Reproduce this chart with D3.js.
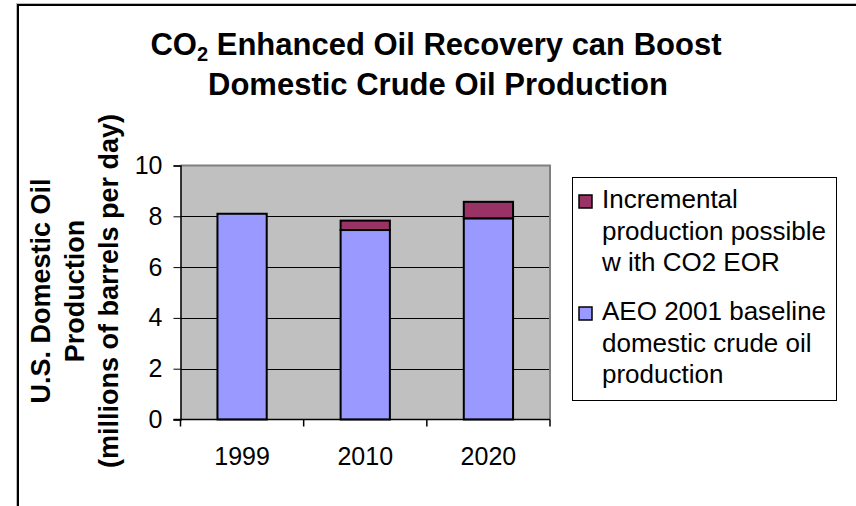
<!DOCTYPE html>
<html><head><meta charset="utf-8">
<script src="https://cdn.jsdelivr.net/npm/d3@7"></script>
<style>body{margin:0;background:#fff}svg{display:block}text{font-family:"Liberation Sans",Arial,sans-serif}</style>
</head><body>
<svg id="c" width="856" height="506"></svg>
<script>
const categories = ["1999", "2010", "2020"];
const baseline = [8.1, 7.46, 7.92];
const incremental = [0, 0.37, 0.65];
const yTicks = [0, 2, 4, 6, 8, 10];
const legendLines = [["Incremental", "production possible", "w ith CO2 EOR"], ["AEO 2001 baseline", "domestic crude oil", "production"]];
const colors = {baseline: "#9999FF", incremental: "#993366"};

(function () {
const svg = d3.select("#c");
// outer frame
svg.append("rect").attr("x", 16.5).attr("y", 3.5).attr("width", 900).attr("height", 600)
  .attr("fill", "none").attr("stroke", "#bbb").attr("stroke-width", 1);
svg.append("rect").attr("x", 18).attr("y", 5).attr("width", 900).attr("height", 600)
  .attr("fill", "none").attr("stroke", "#000").attr("stroke-width", 2);

// title
const title = svg.append("text").attr("text-anchor", "middle").attr("font-weight", "bold").attr("font-size", 31);
const t1 = title.append("tspan").attr("x", 436).attr("y", 55);
t1.append("tspan").text("CO");
t1.append("tspan").attr("font-size", 20).attr("dy", 6).text("2");
t1.append("tspan").attr("dy", -6).text(" Enhanced Oil Recovery can Boost");
title.append("tspan").attr("x", 438).attr("y", 95).text("Domestic Crude Oil Production");

const pLeft = 180.5, pRight = 550, pTop = 165.5, pBottom = 419.5;
const x = d3.scaleBand().domain(categories).range([pLeft, pRight]).paddingInner(0.6).paddingOuter(0.3);
const y = d3.scaleLinear().domain([0, 10]).range([pBottom, pTop]);

// plot background
svg.append("rect").attr("x", pLeft).attr("y", pTop).attr("width", pRight - pLeft).attr("height", pBottom - pTop).attr("fill", "#C0C0C0");
// gridlines
svg.append("g").selectAll("line").data(yTicks.filter(v => v > 0 && v < 10)).join("line")
  .attr("x1", pLeft).attr("x2", pRight).attr("y1", d => Math.round(y(d)) + 0.5).attr("y2", d => Math.round(y(d)) + 0.5)
  .attr("stroke", "#000").attr("stroke-width", 1);
// top/right border gray
svg.append("path").attr("d", `M${pLeft},${pTop}H${pRight}V${pBottom}`).attr("fill", "none").attr("stroke", "#808080").attr("stroke-width", 2);

// bars
const rows = categories.map((c, i) => ({cat: c, baseline: baseline[i], incremental: incremental[i]}));
const stack = d3.stack().keys(["baseline", "incremental"])(rows);
const g = svg.append("g");
stack.forEach(s => {
  g.selectAll(null).data(s.filter(d => d[1] - d[0] > 0)).join("rect")
    .attr("x", d => x(d.data.cat)).attr("width", x.bandwidth())
    .attr("y", d => y(d[1])).attr("height", d => y(d[0]) - y(d[1]))
    .attr("fill", colors[s.key]).attr("stroke", "#000").attr("stroke-width", 2);
});

// y axis
const ya = svg.append("g").attr("transform", `translate(${pLeft},0)`)
  .call(d3.axisLeft(y).tickValues(yTicks).tickSize(7).tickPadding(11).tickFormat(d3.format("d")));
ya.select(".domain").attr("stroke", "#000").attr("stroke-width", 1.5);
ya.selectAll("text").attr("font-size", 25).attr("fill", "#000").attr("font-family", "Liberation Sans, Arial, sans-serif");
ya.selectAll("line").attr("stroke", "#000");

// x axis
svg.append("line").attr("x1", pLeft - 7).attr("x2", pRight).attr("y1", pBottom).attr("y2", pBottom).attr("stroke", "#000").attr("stroke-width", 1.5);
const bounds = d3.range(categories.length + 1).map(i => pLeft + i * x.step());
svg.append("g").selectAll("line").data(bounds).join("line")
  .attr("x1", d => d).attr("x2", d => d).attr("y1", pBottom).attr("y2", pBottom + 7).attr("stroke", "#000").attr("stroke-width", 1.5);
svg.append("g").selectAll("text").data(categories).join("text")
  .attr("x", d => x(d) + x.bandwidth() / 2).attr("y", 465).attr("text-anchor", "middle")
  .attr("font-size", 25).text(d => d);

// y axis title
const yt = svg.append("text").attr("transform", "translate(0,291) rotate(-90)").attr("text-anchor", "middle")
  .attr("font-weight", "bold").attr("font-size", 27);
[["U.S. Domestic Oil", 50], ["Production", 84], ["(millions of barrels per day)", 118]].forEach(([t, xx]) => {
  yt.append("tspan").attr("x", 0).attr("y", xx).text(t);
});

// legend
svg.append("rect").attr("x", 572.5).attr("y", 177.5).attr("width", 264).attr("height", 223)
  .attr("fill", "#fff").attr("stroke", "#000").attr("stroke-width", 1);
const legendKeys = ["incremental", "baseline"];
const legendTop = [208, 320];
const legendStep = 31.5;
legendKeys.forEach((k, i) => {
  svg.append("rect").attr("x", 579).attr("y", legendTop[i] - 13).attr("width", 13).attr("height", 13)
    .attr("fill", colors[k]).attr("stroke", "#000").attr("stroke-width", 1.5);
  const t = svg.append("text").attr("font-size", 26).attr("fill", "#000");
  legendLines[i].forEach((ln, j) => t.append("tspan").attr("x", 602).attr("y", legendTop[i] + j * legendStep).text(ln));
});
})();
</script>
</body></html>
